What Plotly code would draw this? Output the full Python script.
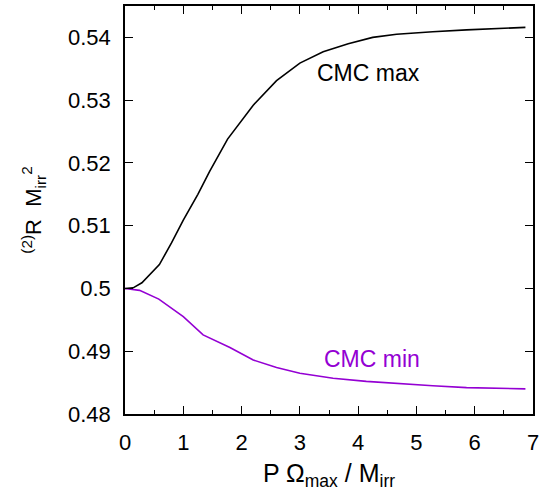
import plotly.graph_objects as go

x_max = [0.0, 0.14, 0.29, 0.59, 0.80, 1.00, 1.25, 1.45, 1.76, 2.20, 2.60, 3.00, 3.40, 3.83, 4.25, 4.66, 5.28, 5.86, 6.87]
y_max = [0.5000, 0.5001, 0.5009, 0.5038, 0.5073, 0.5109, 0.5150, 0.5186, 0.5238, 0.5292, 0.5331, 0.5359, 0.5377, 0.5390, 0.5400, 0.5405, 0.5409, 0.5412, 0.5416]

x_min = [0.0, 0.25, 0.58, 1.00, 1.34, 1.80, 2.20, 2.60, 3.00, 3.57, 4.14, 4.72, 5.28, 5.86, 6.87]
y_min = [0.5000, 0.4997, 0.4983, 0.4955, 0.4926, 0.4906, 0.4886, 0.4874, 0.4865, 0.4857, 0.4852, 0.4848, 0.4845, 0.4842, 0.4840]

x_ticks = [0, 1, 2, 3, 4, 5, 6, 7]
y_ticks = [0.48, 0.49, 0.50, 0.51, 0.52, 0.53, 0.54]
y_labels = ["0.48", "0.49", "0.5", "0.51", "0.52", "0.53", "0.54"]

FONT = "Liberation Sans, Arial, Helvetica, sans-serif"
PURPLE = "#9400D3"

fig = go.Figure()
fig.add_trace(go.Scatter(x=x_max, y=y_max, mode="lines", line=dict(color="black", width=1.6), showlegend=False))
fig.add_trace(go.Scatter(x=x_min, y=y_min, mode="lines", line=dict(color=PURPLE, width=1.6), showlegend=False))

fig.add_annotation(x=4.18, y=0.5343, text="CMC max", showarrow=False, font=dict(family=FONT, size=23, color="black"))
fig.add_annotation(x=4.23, y=0.4888, text="CMC min", showarrow=False, font=dict(family=FONT, size=23, color=PURPLE))

fig.update_layout(
    width=539, height=496,
    margin=dict(l=125, r=6, t=6, b=82, autoexpand=False),
    paper_bgcolor="white", plot_bgcolor="white",
    font=dict(family=FONT, size=22, color="black"),
    xaxis=dict(
        range=[0, 7], tickvals=x_ticks, ticks="inside", ticklen=8, tickwidth=1, tickcolor="black",
        showline=True, linecolor="black", linewidth=1.5, mirror="ticks", showgrid=False, zeroline=False,
        minor=dict(dtick=0.5, ticks="inside", ticklen=4, tickcolor="black", showgrid=False),
        title=dict(text="P Ω<sub>max</sub> / M<sub>irr</sub>", font=dict(size=25), standoff=10),
        tickfont=dict(size=22), ticklabelstandoff=8, automargin=False, ticklabeloverflow="allow",
    ),
    yaxis=dict(
        range=[0.48, 0.545], tickvals=y_ticks, ticktext=y_labels, ticks="inside", ticklen=8, tickwidth=1, tickcolor="black",
        showline=True, linecolor="black", linewidth=1.5, mirror="ticks", showgrid=False, zeroline=False,
        title=dict(text="<sup>(2)</sup>R  M<sub>irr</sub><sup>2</sup>", font=dict(size=22), standoff=20),
        tickfont=dict(size=22), ticklabelstandoff=8, automargin=False, ticklabeloverflow="allow",
    ),
)

fig.write_html(
    "out.html",
    config={"displayModeBar": False},
    post_script="document.body.style.margin='0';document.body.style.overflow='hidden';",
)
